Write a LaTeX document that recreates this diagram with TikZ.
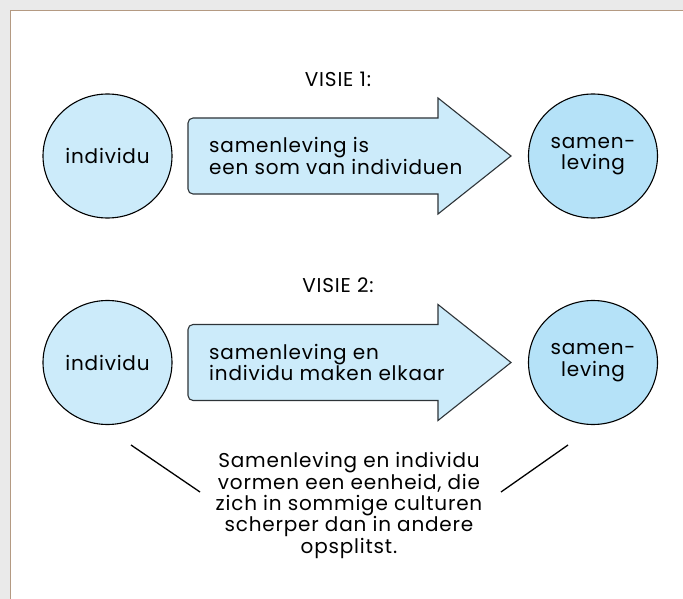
\documentclass[tikz,border=0pt]{standalone}
\usepackage{fontspec}
\setmainfont{Poppins}[LetterSpace=4]
\usetikzlibrary{positioning}
\usetikzlibrary{shapes.geometric}
\definecolor{paleblue}{HTML}{CCEBFA}
\definecolor{wholeblue}{HTML}{B5E2F8}
\definecolor{arrowline}{HTML}{2E3438}
\definecolor{framebrown}{HTML}{B49A82}
\definecolor{outside}{HTML}{EAEAEA}
\tikzset {
  % ellipse vertices
  main/.style = {draw, ellipse, minimum width=129pt, minimum height=124pt,
    inner sep=0pt, fill=paleblue, line width=1.1pt, align=center, font=\lbl},
  % society vertex
  whole/.style={fill=wholeblue},
  % big block arrows
  flow/.style={draw=arrowline, fill=paleblue, line width=1.1pt},
  % text labels
  lbl/.style={font=\lbl, align=left, inner sep=0pt},
  split/.style={black, line width=1.3pt},
}
\newcommand{\lbl}{\fontsize{20}{21.3}\selectfont}
\begin{document}
\begin{tikzpicture}[x=1pt, y=-1pt]
      \useasboundingbox (0,0) rectangle (683,599);
      \fill[outside] (0,0) rectangle (683,599);
      \clip (0,0) rectangle (683,599);
      \draw[framebrown, fill=white, line width=1pt] (10.5,10.5) rectangle (700,620);

      % vision 1
      \node[lbl] (v1) at (338,79) {VISIE 1:};
      \node[main] (ind1) at (107.5,156) {individu};
      \node[main, whole] (sam1) at (593,156) {samen-\\leving};
      \draw[flow] (438,194) [rounded corners=5pt] -- (188,194) -- (188,118)
        [sharp corners] -- (438,118) -- (438,98) -- (511,156) -- (438,214) -- cycle;
      \node[lbl, anchor=west] (a1) at (209,156) {samenleving is\\een som van individuen};

      % vision 2
      \node[lbl] (v2) at (338,285) {VISIE 2:};
      \node[main] (ind2) at (107.5,362.5) {individu};
      \node[main, whole] (sam2) at (593,362.5) {samen-\\leving};
      \draw[flow] (438,400.5) [rounded corners=5pt] -- (188,400.5) -- (188,324.5)
        [sharp corners] -- (438,324.5) -- (438,304.5) -- (511,362.5) -- (438,420.5) -- cycle;
      \node[lbl, anchor=west] (a2) at (209,362.5) {samenleving en\\individu maken elkaar};

      % unity
      \node[lbl, align=center] (unit) at (349,505.5)
        {Samenleving en individu\\vormen een eenheid, die\\zich in sommige culturen\\scherper dan in andere\\opsplitst.};
      \coordinate (l1) at (131,445);
      \coordinate (l2) at (200,492);
      \coordinate (r1) at (568,445);
      \coordinate (r2) at (501,492);
      \draw[split] (l1) -- (l2);
      \draw[split] (r1) -- (r2);
    \end{tikzpicture}
\end{document}
